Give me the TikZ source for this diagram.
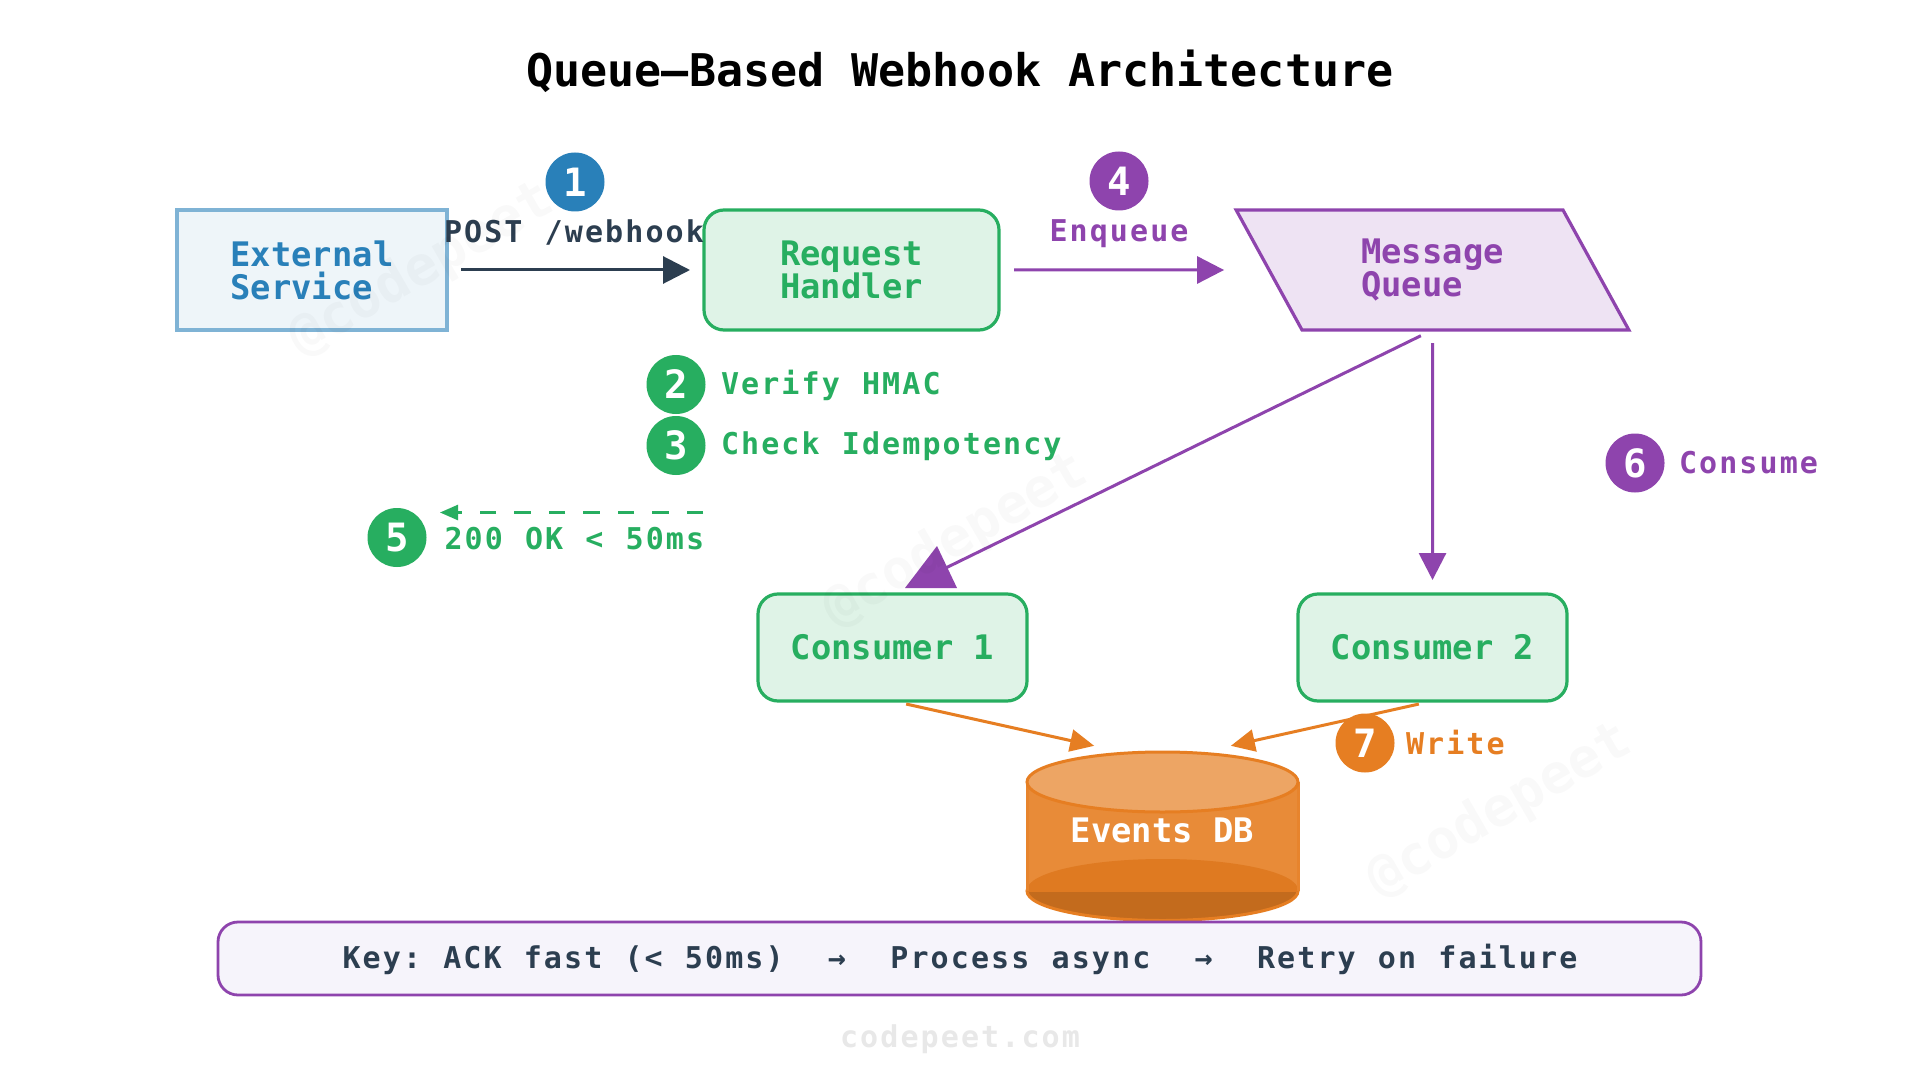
\documentclass[tikz,border=0pt]{standalone}
\usepackage{fontspec}
\usetikzlibrary{arrows.meta,shapes.geometric}
\setmainfont{DejaVu Sans Mono}
\newfontfamily\labfont[LetterSpace=7,WordSpace=1.1]{DejaVu Sans Mono}
\frenchspacing
\definecolor{cblue}{HTML}{2980B9}
\definecolor{cgreen}{HTML}{27AE60}
\definecolor{cpurple}{HTML}{8E44AD}
\definecolor{corange}{HTML}{E67E22}
\definecolor{cdark}{HTML}{2C3E50}
\definecolor{keyfill}{HTML}{F6F4FB}
\tikzset{
  x=0.5pt,y=-0.5pt,
  boxtxt/.style={font=\fontsize{16.9}{16.5}\selectfont\bfseries,align=left,inner sep=0pt,outer sep=0pt,line width=1.6pt},
  extbox/.style={boxtxt,draw=cblue!60,fill=cblue!8,text=cblue,minimum width=135pt,minimum height=60pt},
  procbox/.style={boxtxt,draw=cgreen,fill=cgreen!15,text=cgreen,rounded corners=10pt},
  queuebox/.style={boxtxt,draw=cpurple,fill=cpurple!15,text=cpurple,shape=trapezium,trapezium left angle=120,trapezium right angle=60,trapezium stretches=true,minimum width=196.5pt,minimum height=60pt},
  badge/.style={circle,fill=#1,text=white,minimum size=29.5pt,inner sep=0pt,font=\fontsize{19.5}{19.5}\selectfont\bfseries},
  lab/.style={text=#1,inner sep=0pt,outer sep=0pt,font=\fontsize{15}{15}\labfont\bfseries},
  conn/.style={line width=1.5pt,draw=#1},
  head/.style={-{Triangle[length=13.5pt,width=13.5pt]}},
  wm/.style={opacity=0.022,text=black,rotate=30,font=\fontsize{27.2}{27.2}\selectfont\bfseries},
}
\begin{document}
\begin{tikzpicture}
\useasboundingbox[fill=white] (0,0) rectangle (1920,1080);

% title
\node[anchor=base,inner sep=0pt,font=\fontsize{22.5}{22.5}\selectfont\bfseries,text=black] (title) at (960,87) {Queue—Based Webhook Architecture};

% nodes
\node[extbox] (ext) at (312,270) {External\\Service};
\node[procbox,minimum width=147.5pt,minimum height=60pt] (req) at (851.5,270) {Request\\Handler};
\node[queuebox] (mq) at (1432.5,270) {Message\\Queue};
\node[procbox,minimum width=134.5pt,minimum height=53.5pt] (c1) at (892.5,647.5) {Consumer 1};
\node[procbox,minimum width=134.5pt,minimum height=53.5pt] (c2) at (1432.5,647.5) {Consumer 2};

% database
\coordinate (dbtop) at (1162.5,761);
\draw[line width=1.5pt,draw=corange,fill=corange!85!black] (1162.5,891) ellipse [x radius=67.75pt,y radius=14.75pt];
\fill[fill=corange!90!white] (1027,782) rectangle (1298,891);
\begin{scope}
  \clip (1027,782) rectangle (1298,891);
  \fill[fill=corange!97!black] (1162.5,890) ellipse [x radius=67.75pt,y radius=15.5pt];
\end{scope}
\draw[line width=1.5pt,draw=corange!95!white] (1027,782) -- (1027,891) (1298,782) -- (1298,891);
\draw[line width=1.5pt,draw=corange,fill=corange!70!white] (1162.5,782) ellipse [x radius=67.75pt,y radius=15pt];
\node[anchor=base,inner sep=0pt,text=white,font=\fontsize{16.9}{16.9}\selectfont\bfseries] (db) at (1162.5,842) {Events DB};

% connectors
\draw[conn=cdark,head,shorten <=7pt,shorten >=7pt] (ext.east) -- (req.west);
\draw[conn=cpurple,head,shorten <=7.5pt,shorten >=22.5pt] (req.east) -- (mq.west);
\draw[conn=cpurple,head,shorten <=6.5pt,shorten >=7pt] (mq.south) -- (c2.north);
\draw[conn=cpurple,shorten <=6.5pt,shorten >=26pt] (mq.south) -- (c1.north);
\fill[cpurple] (937,546) -- (905,588) -- (957,588) -- cycle;
\draw[conn=corange,-{Triangle[length=12pt,width=11pt]},shorten <=7pt,shorten >=35pt] (c1.south) -- (dbtop);
\draw[conn=corange,-{Triangle[length=12pt,width=11pt]},shorten <=7pt,shorten >=35pt] (c2.south) -- (dbtop);
\coordinate (rets) at (703,512.5);
\coordinate (rete) at (440,512.5);
\draw[line width=1.25pt,draw=cgreen,dash pattern=on 8.25pt off 9pt,-{Triangle[length=9pt,width=7.5pt]}] (rets) -- (rete);

% legend
\node[draw=cpurple,line width=1.4pt,fill=keyfill,rounded corners=10pt,minimum width=741.5pt,minimum height=36.5pt,inner sep=0pt] (key) at (959.5,958.5) {};
\node[lab=cdark,anchor=base] (keytxt) at (960,968) {Key: ACK fast (< 50ms)\ \ →\ \ Process async\ \ →\ \ Retry on failure};

% badges
\node[badge=cblue] (b1) at (575,182) {1};
\node[badge=cgreen] (b2) at (676,384.5) {2};
\node[badge=cgreen] (b3) at (676,445.5) {3};
\node[badge=cpurple] (b4) at (1119,181) {4};
\node[badge=cgreen] (b5) at (397,537.5) {5};
\node[badge=cpurple] (b6) at (1635,463) {6};
\node[badge=corange] (b7) at (1365,743) {7};

% labels
\node[lab=cdark,anchor=base west] (l1) at (444,243) {POST /webhook};
\node[lab=cgreen,anchor=base west] (l2) at (721,394) {Verify HMAC};
\node[lab=cgreen,anchor=base west] (l3) at (721,454) {Check Idempotency};
\node[lab=cpurple,anchor=base] (l4) at (1119,242) {Enqueue};
\node[lab=cgreen,anchor=base west] (l5) at (444.5,549) {200 OK < 50ms};
\node[lab=cpurple,anchor=base west] (l6) at (1679,473) {Consume};
\node[lab=corange,anchor=base west] (l7) at (1406,754) {Write};
\node[lab=black!9,anchor=base] (site) at (960,1047) {codepeet.com};

% watermarks
\node[wm] (w1) at (422,270) {@codepeet};
\node[wm] (w2) at (956,541) {@codepeet};
\node[wm] (w3) at (1500,811) {@codepeet};
\end{tikzpicture}
\end{document}
